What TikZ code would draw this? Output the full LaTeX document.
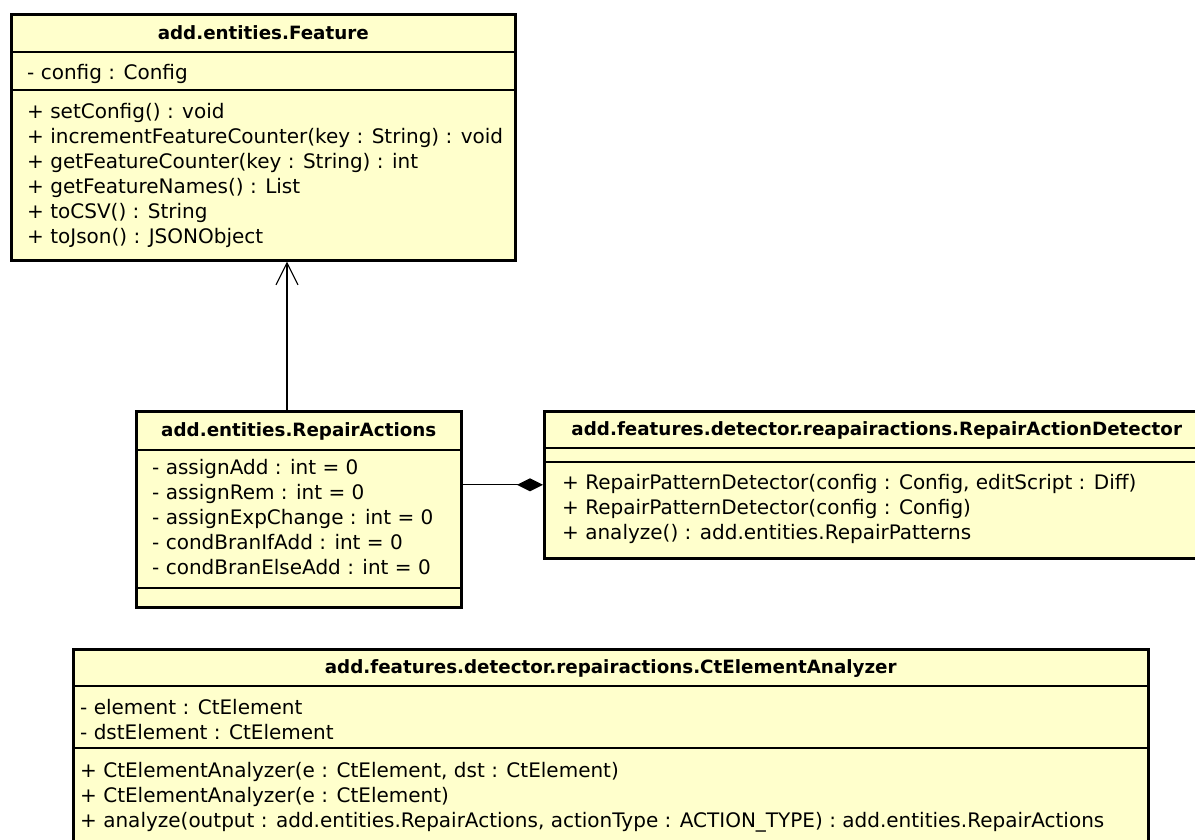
\documentclass[tikz,border=0pt]{standalone}
\usepackage{fontspec}
\setmainfont{DejaVu Sans}
\usetikzlibrary{arrows.meta}
\definecolor{umlfill}{RGB}{255,255,204}
\tikzset{
  classbox/.style={draw, line width=2.5pt, fill=umlfill, anchor=north west, inner sep=0pt},
  sep/.style={line width=1.3pt},
  title/.style={font=\bfseries\fontsize{18.3}{22}\selectfont, inner sep=0pt},
  members/.style={anchor=north west, align=left, inner sep=0pt, font=\fontsize{20}{24.9}\selectfont},
  gen/.style={line width=1.2pt, -{Straight Barb[length=22pt,width=22pt,line width=1.2pt]}},
  comp/.style={line width=1.2pt, -{Diamond[length=26pt,width=13pt]}},
}

\begin{document}
\begin{tikzpicture}[x=1pt, y=-1pt]
    \useasboundingbox (0,0) rectangle (1195,839);

    % class boxes
    \node[classbox, minimum width=504pt, minimum height=246pt] (feature) at (10,13) {};
    \node[classbox, minimum width=325pt, minimum height=196pt] (repair) at (135,410) {};
    \node[classbox, minimum width=665pt, minimum height=147pt] (detector) at (543,410) {};
    \node[classbox, minimum width=1075pt, minimum height=230pt] (analyzer) at (72,648) {};

    % compartments
    \draw[sep] (feature.west |- 0,52) -- (feature.east |- 0,52);
    \draw[sep] (feature.west |- 0,90) -- (feature.east |- 0,90);
    \draw[sep] (repair.west |- 0,450) -- (repair.east |- 0,450);
    \draw[sep] (repair.west |- 0,588) -- (repair.east |- 0,588);
    \draw[sep] (detector.west |- 0,448) -- (detector.east |- 0,448);
    \draw[sep] (detector.west |- 0,462) -- (detector.east |- 0,462);
    \draw[sep] (analyzer.west |- 0,686) -- (analyzer.east |- 0,686);
    \draw[sep] (analyzer.west |- 0,748) -- (analyzer.east |- 0,748);

    % add.entities.Feature
    \node[title] (featuretitle) at (feature.north |- 0,33) {add.entities.Feature};
    \node[members] (featureattr) at (27,64.5) {- config : Config};
    \node[members] (featureops) at (27,103.5) {+ setConfig() : void\\
        + incrementFeatureCounter(key : String) : void\\
        + getFeatureCounter(key : String) : int\\
        + getFeatureNames() : List\\
        + toCSV() : String\\
        + toJson() : JSONObject};

    % add.entities.RepairActions
    \node[title] (repairtitle) at (repair.north |- 0,431) {add.entities.RepairActions};
    \node[members] (repairattr) at (152,459.5) {- assignAdd : int = 0\\
        - assignRem : int = 0\\
        - assignExpChange : int = 0\\
        - condBranIfAdd : int = 0\\
        - condBranElseAdd : int = 0};

    % RepairActionDetector
    \node[title] (detectortitle) at (detector.north |- 0,430) {add.features.detector.reapairactions.RepairActionDetector};
    \node[members] (detectorops) at (562,474.5) {+ RepairPatternDetector(config : Config, editScript : Diff)\\
        + RepairPatternDetector(config : Config)\\
        + analyze() : add.entities.RepairPatterns};

    % CtElementAnalyzer
    \node[title] (analyzertitle) at (analyzer.north |- 0,669) {add.features.detector.repairactions.CtElementAnalyzer};
    \node[members] (analyzerattr) at (80,699.5) {- element : CtElement\\
        - dstElement : CtElement};
    \node[members] (analyzerops) at (80,762.5) {+ CtElementAnalyzer(e : CtElement, dst : CtElement)\\
        + CtElementAnalyzer(e : CtElement)\\
        + analyze(output : add.entities.RepairActions, actionType : ACTION\_TYPE) : add.entities.RepairActions};

    % relations
    \coordinate (genx) at (287,0);
    \draw[gen] (repair.north -| genx) -- (feature.south -| genx);
    \draw[comp] (repair.east |- detector.west) -- (detector.west);
\end{tikzpicture}
\end{document}
